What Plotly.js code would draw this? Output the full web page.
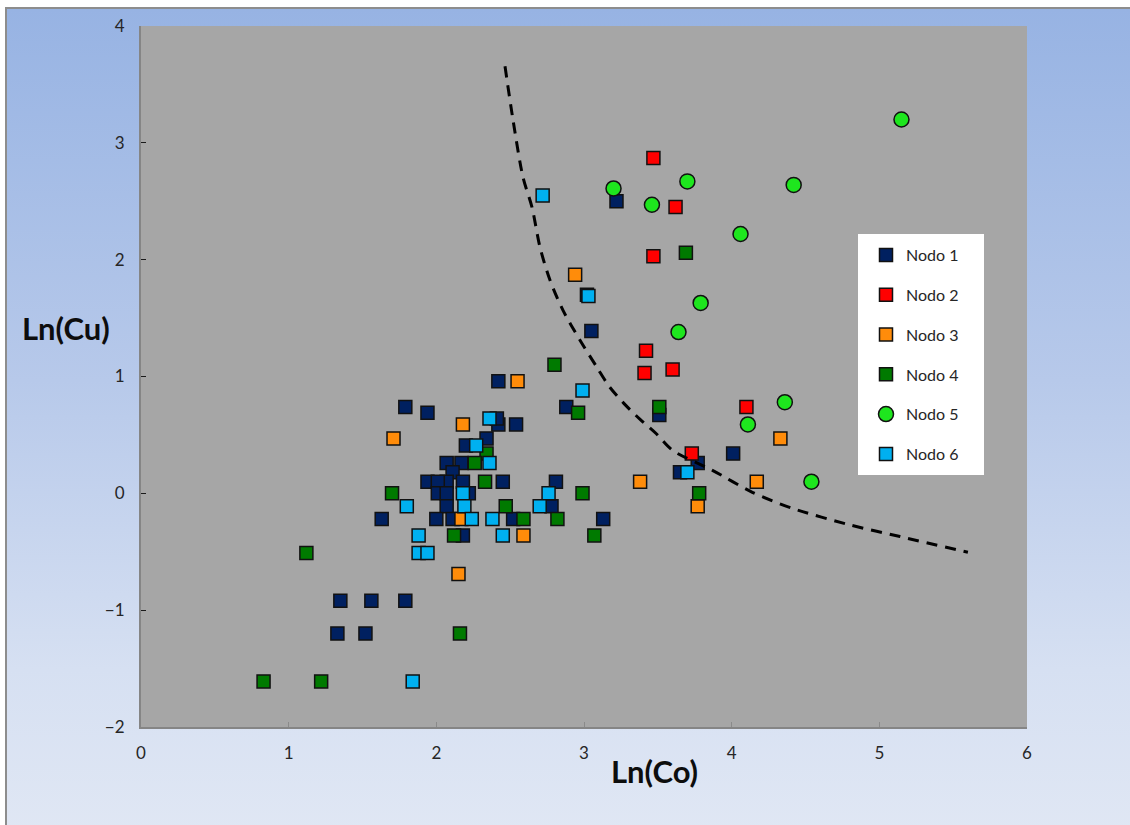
<!DOCTYPE html>
<html>
<head>
<meta charset="utf-8">
<script src="https://cdn.plot.ly/plotly-3.0.1.min.js"></script>
<style>
  html, body { margin: 0; padding: 0; background: #ffffff; }
  #frame {
    position: absolute; left: 5px; top: 7px; width: 1130px; height: 825px;
    border-left: 2px solid #8d8d8d; border-top: 2px solid #8d8d8d;
    background: linear-gradient(to bottom, #97b3e3 0%, #b7c9ea 45%, #d6e0f2 80%, #e0e7f4 100%);
  }
  #chart { position: absolute; left: 0; top: 0; width: 1130px; height: 825px; }
</style>
</head>
<body>
<div id="frame"></div>
<div id="chart"></div>
<script>
// Nodo 1
const n1x = [1.33,1.52,1.35,1.56,1.79,1.79,1.94,1.63,2.42,2.42,2.54,2.41,2.34,2.20,2.07,2.17,2.11,1.94,2.07,2.01,2.18,2.45,2.01,2.07,2.22,2.07,2.00,2.11,2.18,2.81,2.88,3.51,2.78,2.52,3.13,3.22,3.02,3.05,3.77,4.01,3.65];
const n1y = [-1.20,-1.20,-0.92,-0.92,-0.92,0.74,0.69,-0.22,0.96,0.59,0.59,0.64,0.47,0.41,0.26,0.26,0.18,0.10,0.10,0.10,0.10,0.10,0.00,0.00,0.00,-0.11,-0.22,-0.22,-0.36,0.10,0.74,0.67,-0.11,-0.22,-0.22,2.50,1.70,1.39,0.26,0.34,0.18];
// Nodo 2
const n2x = [3.47,3.62,3.47,3.42,3.41,3.60,4.10,3.73];
const n2y = [2.87,2.45,2.03,1.22,1.03,1.06,0.74,0.34];
// Nodo 3
const n3x = [2.94,2.55,2.18,1.71,2.17,2.59,2.15,3.38,3.77,4.17,4.33];
const n3y = [1.87,0.96,0.59,0.47,-0.22,-0.36,-0.69,0.10,-0.11,0.10,0.47];
// Nodo 4
const n4x = [2.80,2.96,3.51,3.69,2.34,2.26,2.33,1.70,2.47,2.12,1.12,2.16,0.83,1.22,2.59,2.82,2.99,3.07,3.78];
const n4y = [1.10,0.69,0.74,2.06,0.34,0.26,0.10,0.00,-0.11,-0.36,-0.51,-1.20,-1.61,-1.61,-0.22,-0.22,0.00,-0.36,0.00];
// Nodo 5
const n5x = [3.20,3.46,3.70,4.06,4.42,5.15,3.79,3.64,4.36,4.11,4.54];
const n5y = [2.61,2.47,2.67,2.22,2.64,3.20,1.63,1.38,0.78,0.59,0.10];
// Nodo 6
const n6x = [2.72,3.03,2.99,2.36,2.27,2.36,2.18,1.80,2.19,2.24,2.38,1.88,2.45,1.88,1.94,1.84,2.76,2.70,3.70];
const n6y = [2.55,1.69,0.88,0.64,0.41,0.26,0.00,-0.11,-0.11,-0.22,-0.22,-0.36,-0.36,-0.51,-0.51,-1.61,0.00,-0.11,0.18];
// dashed boundary curve
const cx = [2.465,2.52,2.587,2.648,2.702,2.77,2.858,2.973,3.088,3.17,3.27,3.38,3.49,3.60,3.87,4.14,4.41,4.80,5.14,5.60];
const cy = [3.655,3.19,2.705,2.448,2.106,1.823,1.566,1.31,1.078,0.916,0.77,0.633,0.51,0.368,0.197,0.009,-0.128,-0.27,-0.37,-0.505];

const names = ['Nodo 1','Nodo 2','Nodo 3','Nodo 4','Nodo 5','Nodo 6'];
const colors = ['#002060','#ff0000','#ff8c0a','#007a00','#1ee61e','#00b0f0'];
const xs = [n1x,n2x,n3x,n4x,n5x,n6x];
const ys = [n1y,n2y,n3y,n4y,n5y,n6y];

const traces = names.map((nm, i) => ({
  type: 'scatter', mode: 'markers', name: nm, x: xs[i], y: ys[i],
  legendgroup: 'g' + i,
  marker: {
    symbol: i === 4 ? 'circle' : 'square',
    size: i === 4 ? 15 : 13,
    color: colors[i],
    line: {color: '#111111', width: 1.5}
  }
}));
traces.push({
  type: 'scatter', mode: 'lines', x: cx, y: cy, showlegend: false, hoverinfo: 'skip',
  line: {color: '#000000', width: 3, dash: '11px,8px', shape: 'spline', smoothing: 0.8}
});

const PL = 141, PR = 1027, PT = 26, PB = 727;
const W = PR - PL, H = PB - PT;
const px = v => (v - PL) / W;
const py = v => (PB - v) / H;

const layout = {
  width: 1130, height: 825,
  margin: {l: PL, r: 1130 - PR, t: PT, b: 825 - PB},
  paper_bgcolor: 'rgba(0,0,0,0)',
  plot_bgcolor: '#a6a6a6',
  font: {family: 'Lato, "Open Sans", sans-serif', color: '#262626'},
  showlegend: true,
  xaxis: {
    range: [0, 6], dtick: 1, tick0: 0, showgrid: false, zeroline: false,
    showline: true, linecolor: '#858585', linewidth: 2,
    ticks: 'inside', ticklen: 5, tickcolor: '#8a8a8a', tickwidth: 1,
    tickfont: {size: 17, color: '#262626'}, ticklabelstandoff: 10
  },
  yaxis: {
    range: [-2, 4], dtick: 1, tick0: -2, showgrid: false, zeroline: false,
    showline: true, linecolor: '#858585', linewidth: 2,
    ticks: 'inside', ticklen: 5, tickcolor: '#1a1a1a', tickwidth: 1,
    tickfont: {size: 17, color: '#262626'}, ticklabelstandoff: 11
  },
  legend: {
    x: px(866), y: py(238), xanchor: 'left', yanchor: 'top',
    bgcolor: 'rgba(0,0,0,0)', borderwidth: 0,
    font: {size: 16, color: '#262626'},
    tracegroupgap: 16
  },
  shapes: [{
    type: 'rect', xref: 'paper', yref: 'paper', layer: 'below',
    x0: px(858), x1: px(984), y0: py(475), y1: py(234),
    fillcolor: '#ffffff', line: {width: 0}
  }],
  annotations: [
    {text: '<b>Ln(Cu)</b>', xref: 'paper', yref: 'paper', x: px(66), y: py(328),
     xanchor: 'center', yanchor: 'middle', showarrow: false,
     font: {size: 31, color: '#0d0d0d', family: 'Lato, sans-serif'}},
    {text: '<b>Ln(Co)</b>', xref: 'paper', yref: 'paper', x: px(654), y: py(771),
     xanchor: 'center', yanchor: 'middle', showarrow: false,
     font: {size: 31, color: '#0d0d0d', family: 'Lato, sans-serif'}}
  ]
};

Plotly.newPlot('chart', traces, layout, {displayModeBar: false, staticPlot: true});
</script>
</body>
</html>
